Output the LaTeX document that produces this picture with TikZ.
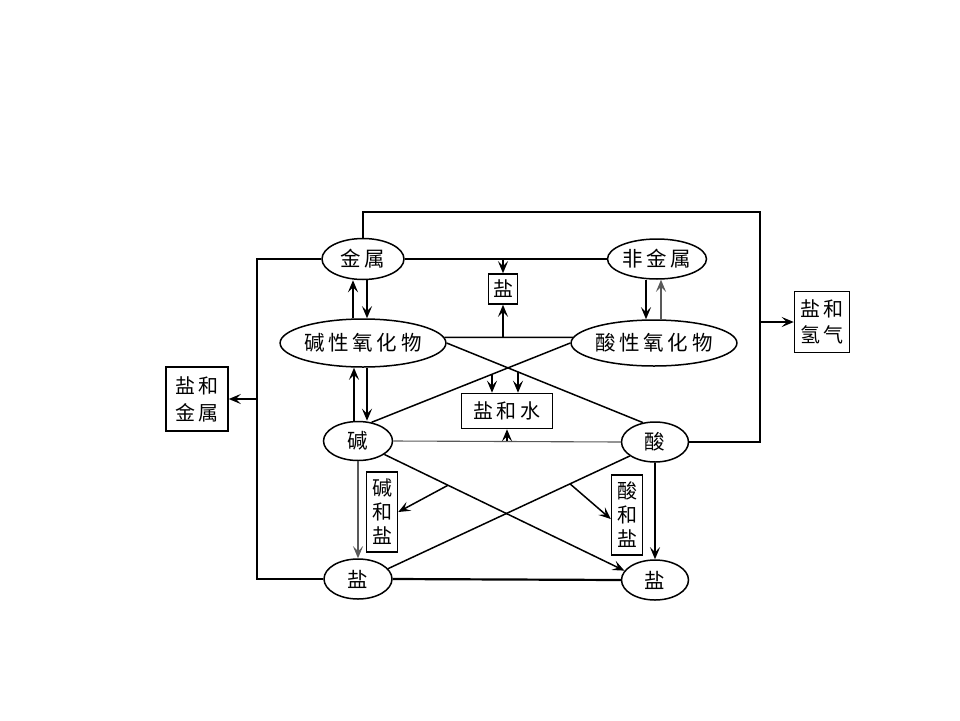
\documentclass[tikz,border=0pt]{standalone}
\usepackage{fontspec}
\newfontfamily\cjk[LetterSpace=18]{Noto Sans CJK SC}
\newfontfamily\cjkn{Noto Sans CJK SC}
\usetikzlibrary{shapes.geometric,arrows.meta,calc,intersections}
\begin{document}
\begin{tikzpicture}[x=1pt,y=-1pt,
  ell/.style={draw,ellipse,line width=1.5pt,inner sep=0pt,font=\cjk\fontsize{20.5}{22}\selectfont},
  box/.style={draw,rectangle,line width=1.5pt,inner sep=0pt,align=center,font=\cjkn\fontsize{20}{24}\selectfont},
  ln/.style={line width=1.5pt},
  arr/.style={ln,-{Stealth[length=12pt,width=10pt,inset=5pt]}},
  gln/.style={line width=1.1pt,black!65},
  garr/.style={gln,-{Stealth[length=12pt,width=10pt,inset=5pt]}}]
\useasboundingbox (0,0) rectangle (960,720);
% nodes
\node[ell,minimum width=82,minimum height=41] (jinshu) at (363,259) {金属};
\node[ell,minimum width=99,minimum height=40] (feijinshu) at (657,259) {非金属};
\node[ell,minimum width=160,minimum height=48] (jxyh) at (363,343) {碱性氧化物};
\node[ell,minimum width=155,minimum height=46] (sxyh) at (654,343) {酸性氧化物};
\node[ell,minimum width=69,minimum height=39] (jian) at (358,441) {碱};
\node[ell,minimum width=67,minimum height=40] (suan) at (655,442) {酸};
\node[ell,minimum width=68,minimum height=40] (yanL) at (358,579) {盐};
\node[ell,minimum width=67,minimum height=40] (yanR) at (655,580) {盐};
\node[box,minimum width=29,minimum height=30] (yanbox) at (503,289) {盐};
\node[box,minimum width=91,minimum height=35,font=\cjk\fontsize{20}{22}\selectfont] (yhs) at (507,411) {盐和水};
\node[box,minimum width=62,minimum height=64,font=\cjk\fontsize{20}{27}\selectfont] (yhjs) at (197,399) {盐和\\金属};
\node[box,minimum width=55,minimum height=61,font=\cjk\fontsize{20}{26}\selectfont] (yhqq) at (822,322) {盐和\\氢气};
\node[box,minimum width=31,minimum height=80] (jhy) at (382,512) {碱\\和\\盐};
\node[box,minimum width=31,minimum height=80] (shy) at (627,515) {酸\\和\\盐};
% helper coordinates
\coordinate (cTR) at (760,212);
\coordinate (cBL) at (257,579);
\coordinate (x353) at (353,0);
\coordinate (x367) at (367,0);
\coordinate (x646) at (646,0);
\coordinate (x661) at (661,0);
\coordinate (x354) at (354,0);
% outer connectors
\draw[ln] (jinshu.north) |- (cTR) |- (suan.east);
\draw[arr] (yhqq.west -| cTR) -- (yhqq.west);
\draw[ln] (jinshu.west) -| (cBL) -- (yanL.west);
\draw[arr] (yhjs.east -| cBL) -- (yhjs.east);
% top row
\draw[ln] (jinshu.east) -- (feijinshu.west);
\draw[arr] (yanbox.north |- jinshu.east) -- (yanbox.north);
\draw[ln] (jxyh.4) -- (sxyh.176);
\draw[arr] (yanbox.south |- jxyh.4) -- (yanbox.south);
% vertical pairs
\draw[arr] (jxyh.north -| x353) -- (jinshu.south -| x353);
\draw[arr] (jinshu.south -| x367) -- (jxyh.north -| x367);
\draw[arr] (feijinshu.south -| x646) -- (sxyh.north -| x646);
\draw[garr] (sxyh.north -| x661) -- (feijinshu.south -| x661);
\draw[arr] (jian.north -| x354) -- (jxyh.south -| x354);
\draw[arr] (jxyh.south -| x367) -- (jian.north -| x367);
\draw[garr] (jian.south) -- (yanL.north);
\draw[arr] (suan.south) -- (yanR.north);
% crossing lines (upper)
\draw[ln,name path=L1] (jxyh.east) -- (suan.122);
\draw[ln,name path=L2] (sxyh.west) -- (jian.54);
\path[name path=v1] (492,340) -- (492,400);
\path[name path=v2] (518,340) -- (518,400);
\path[name intersections={of=L2 and v1,by=i1}];
\path[name intersections={of=L1 and v2,by=i2}];
\draw[arr] (i1) -- (yhs.north -| i1);
\draw[arr] (i2) -- (yhs.north -| i2);
% base-acid line
\draw[gln] (jian.east) -- (suan.west);
\draw[arr] (yhs.south |- jian.east) -- (yhs.south);
% crossing lines (lower)
\draw[arr,name path=L3] (jian.-27) -- (yanR.163);
\draw[ln,name path=L4] (suan.209) -- (yanL.19);
\path[name path=v3] (448,440) -- (448,560);
\path[name path=v4] (570,440) -- (570,560);
\path[name intersections={of=L3 and v3,by=i3}];
\path[name intersections={of=L4 and v4,by=i4}];
\draw[arr] (i3) -- (jhy.east);
\draw[arr] (i4) -- ([yshift=-4pt]shy.west);
% bottom
\draw[ln,line width=2.2pt] (yanL.east) -- (yanR.west);
\end{tikzpicture}
\end{document}
